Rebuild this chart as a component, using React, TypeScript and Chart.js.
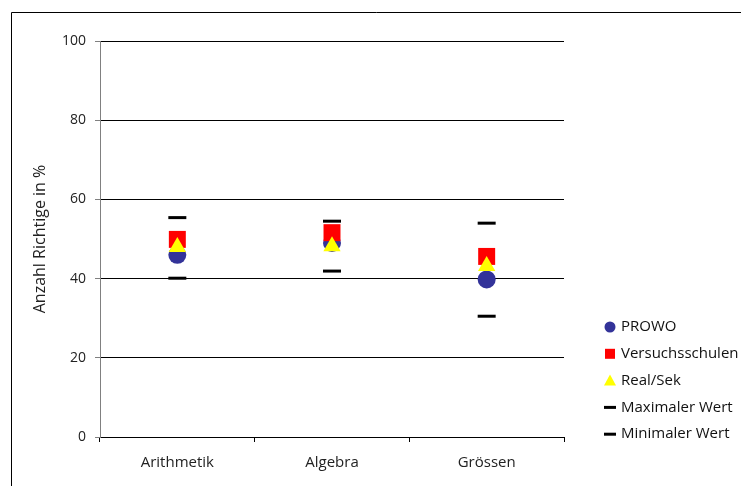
import React, { useEffect, useRef } from 'react';
import { Chart, registerables } from 'chart.js';

Chart.register(...registerables);

const categories = ['Arithmetik', 'Algebra', 'Grössen'];
const prowo = [46.0, 49.0, 39.8];
const versuchsschulen = [49.9, 51.6, 45.6];
const realSek = [48.0, 48.2, 43.2];
const maxWert = [55.4, 54.5, 54.0];
const minWert = [40.1, 41.9, 30.5];
const yTicks = [0, 20, 40, 60, 80, 100];
const seriesNames = ['PROWO', 'Versuchsschulen', 'Real/Sek', 'Maximaler Wert', 'Minimaler Wert'];

const FONT = "'Open Sans', 'Noto Sans', sans-serif";

const framePlugin = {
  id: 'frame',
  beforeDraw(chart: any) {
    const ctx = chart.ctx;
    ctx.save();
    ctx.strokeStyle = '#000';
    ctx.lineWidth = 1;
    ctx.beginPath();
    ctx.moveTo(11.5, chart.height);
    ctx.lineTo(11.5, 12.5);
    ctx.lineTo(chart.width, 12.5);
    ctx.stroke();
    ctx.restore();
  },
};

const legendPlugin = {
  id: 'customLegend',
  afterDraw(chart: any) {
    const ctx = chart.ctx;
    ctx.save();
    const mx = 610;
    const tx = 621;
    const y0 = 327;
    const dy = 26.8;
    ctx.font = `15px ${FONT}`;
    ctx.textBaseline = 'middle';
    ctx.textAlign = 'left';
    seriesNames.forEach((name, i) => {
      const y = y0 + i * dy;
      const ds = chart.data.datasets[i];
      ctx.fillStyle = ds.pointBackgroundColor;
      ctx.strokeStyle = ds.pointBorderColor;
      const style = ds.pointStyle;
      ctx.beginPath();
      if (style === 'circle') {
        ctx.arc(mx, y, 5.5, 0, Math.PI * 2);
        ctx.fill();
      } else if (style === 'rect') {
        ctx.rect(mx - 5, y - 5, 10, 10);
        ctx.fill();
      } else if (style === 'triangle') {
        ctx.moveTo(mx, y - 6);
        ctx.lineTo(mx + 6, y + 5);
        ctx.lineTo(mx - 6, y + 5);
        ctx.closePath();
        ctx.fill();
      } else {
        ctx.lineWidth = 3;
        ctx.moveTo(mx - 6, y);
        ctx.lineTo(mx + 6, y);
        ctx.stroke();
      }
      ctx.fillStyle = '#111';
      ctx.fillText(name, tx, y);
    });
    ctx.restore();
  },
};

export default function App() {
  const ref = useRef<HTMLCanvasElement | null>(null);

  useEffect(() => {
    document.body.style.margin = '0';
    const canvas = ref.current;
    if (!canvas) return;
    const mk = (label: string, data: number[], style: string, radius: number, color: string, order: number, bw = 0) => ({
      label,
      data,
      showLine: false,
      pointStyle: style,
      pointRadius: radius,
      pointHoverRadius: radius,
      pointBackgroundColor: color,
      pointBorderColor: color,
      pointBorderWidth: bw,
      borderColor: color,
      backgroundColor: color,
      order,
    });
    const chart = new Chart(canvas, {
      type: 'line',
      data: {
        labels: categories,
        datasets: [
          mk(seriesNames[0], prowo, 'circle', 9, '#333399', 3),
          mk(seriesNames[1], versuchsschulen, 'rect', 12, '#FF0000', 2),
          mk(seriesNames[2], realSek, 'triangle', 10, '#FFFF00', 1),
          mk(seriesNames[3], maxWert, 'line', 9, '#000000', 0, 3),
          mk(seriesNames[4], minWert, 'line', 9, '#000000', 0, 3),
        ] as any,
      },
      options: {
        animation: false,
        responsive: false,
        events: [],
        layout: { padding: { top: 41, right: 177, left: 0, bottom: 0 } },
        plugins: {
          legend: { display: false },
          tooltip: { enabled: false },
        },
        scales: {
          x: {
            type: 'category',
            offset: true,
            afterFit: (s: any) => { s.height = 49; },
            grid: {
              offset: true,
              drawOnChartArea: false,
              tickLength: 5,
              color: '#000',
              tickColor: '#000',
            },
            border: { display: true, color: '#000' },
            ticks: {
              padding: 12,
              color: '#222',
              font: { family: FONT, size: 15 },
              maxRotation: 0,
            },
          },
          y: {
            min: 0,
            max: 100,
            afterFit: (s: any) => { s.width = 100; },
            afterBuildTicks: (s: any) => { s.ticks = yTicks.map((v) => ({ value: v })); },
            grid: {
              color: '#000',
              tickColor: '#808080',
              tickLength: 5,
            },
            border: { display: true, color: '#808080' },
            ticks: {
              padding: 9,
              color: '#222',
              font: { family: FONT, size: 14 },
            },
            title: {
              display: true,
              text: 'Anzahl Richtige in %',
              color: '#222',
              font: { family: FONT, size: 16 },
              padding: { top: 31, bottom: 0 },
            },
          },
        },
      } as any,
      plugins: [framePlugin, legendPlugin],
    });
    return () => chart.destroy();
  }, []);

  return (
    <div style={{ width: 741, height: 486, position: 'relative' }}>
      <canvas ref={ref} width={741} height={486} style={{ display: 'block' }} />
    </div>
  );
}
